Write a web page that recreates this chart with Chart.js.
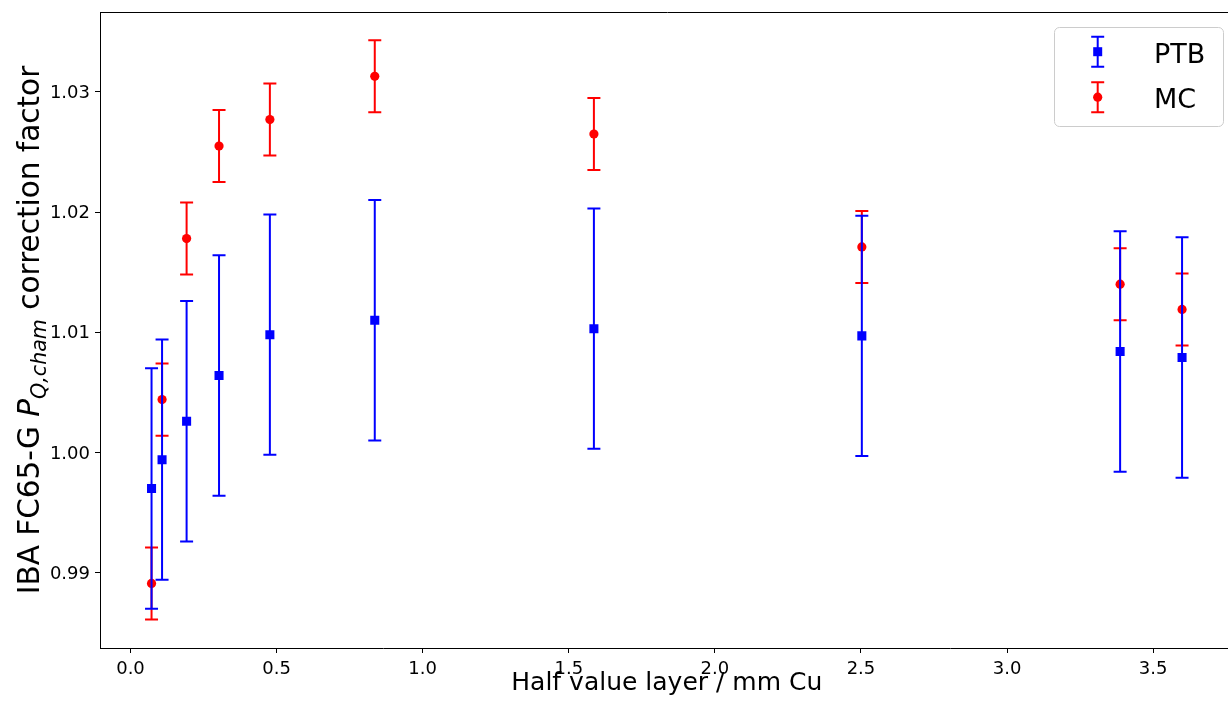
<!DOCTYPE html>
<html>
<head>
<meta charset="utf-8">
<script src="https://cdn.jsdelivr.net/npm/chart.js@4.4.0/dist/chart.umd.min.js"></script>
<style>
  html, body { margin: 0; padding: 0; background: #fff; overflow: hidden; }
  #wrap { width: 1240px; height: 704px; }
</style>
</head>
<body>
<div id="wrap"><canvas id="chart" width="1240" height="704"></canvas></div>
<script>
// half value layer (mm Cu)
const HVL = [0.072, 0.108, 0.192, 0.303, 0.477, 0.836, 1.586, 2.503, 3.387, 3.599];
// PTB measurement
const PTB = [0.9970, 0.9994, 1.0026, 1.0064, 1.0098, 1.0110, 1.0103, 1.0097, 1.0084, 1.0079];
const PTB_ERR = [0.010, 0.010, 0.010, 0.010, 0.010, 0.010, 0.010, 0.010, 0.010, 0.010];
// Monte Carlo
const MC = [0.9891, 1.0044, 1.0178, 1.0255, 1.0277, 1.0313, 1.0265, 1.0171, 1.0140, 1.0119];
const MC_ERR = [0.003, 0.003, 0.003, 0.003, 0.003, 0.003, 0.003, 0.003, 0.003, 0.003];

const X_TICKS = [0.0, 0.5, 1.0, 1.5, 2.0, 2.5, 3.0, 3.5];
const Y_TICKS = [0.99, 1.00, 1.01, 1.02, 1.03];

const FONT = '"DejaVu Sans", sans-serif';

const noPad = s => { s.paddingTop = 0; s.paddingBottom = 0; s.paddingLeft = 0; s.paddingRight = 0; };

const extras = {
  id: 'extras',
  beforeDatasetDraw(chart, args) {
    const ds = chart.data.datasets[args.index];
    const xs = chart.scales.x, ys = chart.scales.y;
    const ctx = chart.ctx;
    ctx.save();
    ctx.strokeStyle = ds.backgroundColor;
    ctx.lineWidth = 2;
    ds.data.forEach((p, i) => {
      const x = xs.getPixelForValue(p.x);
      const y1 = ys.getPixelForValue(p.y - ds.err[i]);
      const y2 = ys.getPixelForValue(p.y + ds.err[i]);
      ctx.beginPath();
      ctx.moveTo(x, y1); ctx.lineTo(x, y2);
      ctx.moveTo(x - 6.5, y1); ctx.lineTo(x + 6.5, y1);
      ctx.moveTo(x - 6.5, y2); ctx.lineTo(x + 6.5, y2);
      ctx.stroke();
    });
    ctx.restore();
  },
  afterDraw(chart) {
    const ctx = chart.ctx;
    const a = chart.chartArea;
    ctx.save();

    // top and right spines
    ctx.strokeStyle = '#000';
    ctx.lineWidth = 1;
    ctx.beginPath();
    ctx.moveTo(Math.round(a.left) + 0.5, Math.round(a.top) + 0.5);
    ctx.lineTo(Math.round(a.right) + 0.5, Math.round(a.top) + 0.5);
    ctx.lineTo(Math.round(a.right) + 0.5, Math.round(a.bottom) + 0.5);
    ctx.stroke();

    // x title
    ctx.fillStyle = '#000';
    ctx.font = '25px ' + FONT;
    ctx.textAlign = 'center';
    ctx.textBaseline = 'alphabetic';
    ctx.fillText('Half value layer / mm Cu', (a.left + a.right) / 2, 690);

    // y title with mathtext-like subscript
    const parts = [
      { t: 'IBA FC65-G ', f: '29.5px ' + FONT, dy: 0 },
      { t: 'P', f: 'italic 29.5px ' + FONT, dy: 0 },
      { t: 'Q,cham', f: 'italic 20.6px ' + FONT, dy: 7 },
      { t: ' correction factor', f: '29.5px ' + FONT, dy: 0 }
    ];
    let total = 0;
    parts.forEach(p => { ctx.font = p.f; p.w = ctx.measureText(p.t).width; total += p.w; });
    ctx.translate(39, (a.top + a.bottom) / 2);
    ctx.rotate(-Math.PI / 2);
    ctx.textAlign = 'left';
    let cx = -total / 2;
    parts.forEach(p => { ctx.font = p.f; ctx.fillText(p.t, cx, p.dy); cx += p.w; });
    ctx.setTransform(1, 0, 0, 1, 0, 0);

    // legend
    const lx = 1054.5, ly = 27.5, lw = 169, lh = 99, r = 5;
    ctx.beginPath();
    ctx.moveTo(lx + r, ly);
    ctx.arcTo(lx + lw, ly, lx + lw, ly + lh, r);
    ctx.arcTo(lx + lw, ly + lh, lx, ly + lh, r);
    ctx.arcTo(lx, ly + lh, lx, ly, r);
    ctx.arcTo(lx, ly, lx + lw, ly, r);
    ctx.closePath();
    ctx.fillStyle = 'rgba(255,255,255,0.8)';
    ctx.fill();
    ctx.strokeStyle = '#cccccc';
    ctx.lineWidth = 1;
    ctx.stroke();

    const entries = [
      { label: 'PTB', color: '#0000ff', shape: 'rect', cy: 51.7 },
      { label: 'MC', color: '#ff0000', shape: 'circle', cy: 97.2 }
    ];
    entries.forEach(e => {
      const ex = 1097.7;
      ctx.strokeStyle = e.color;
      ctx.fillStyle = e.color;
      ctx.lineWidth = 2;
      ctx.beginPath();
      ctx.moveTo(ex, e.cy - 15); ctx.lineTo(ex, e.cy + 15);
      ctx.moveTo(ex - 6.5, e.cy - 15); ctx.lineTo(ex + 6.5, e.cy - 15);
      ctx.moveTo(ex - 6.5, e.cy + 15); ctx.lineTo(ex + 6.5, e.cy + 15);
      ctx.stroke();
      ctx.beginPath();
      if (e.shape === 'rect') ctx.rect(ex - 4.5, e.cy - 4.5, 9, 9);
      else ctx.arc(ex, e.cy, 4.6, 0, Math.PI * 2);
      ctx.fill();
      ctx.fillStyle = '#000';
      ctx.font = '27px ' + FONT;
      ctx.textAlign = 'left';
      ctx.textBaseline = 'alphabetic';
      ctx.fillText(e.label, 1154, e.cy + 11);
    });

    ctx.restore();
  }
};

new Chart(document.getElementById('chart'), {
  type: 'scatter',
  data: {
    datasets: [
      {
        label: 'PTB',
        data: HVL.map((x, i) => ({ x: x, y: PTB[i] })),
        err: PTB_ERR,
        backgroundColor: '#0000ff',
        borderColor: '#0000ff',
        pointStyle: 'rect',
        pointRadius: 6.4,
        pointBorderWidth: 0
      },
      {
        label: 'MC',
        data: HVL.map((x, i) => ({ x: x, y: MC[i] })),
        err: MC_ERR,
        backgroundColor: '#ff0000',
        borderColor: '#ff0000',
        pointStyle: 'circle',
        pointRadius: 4.6,
        pointBorderWidth: 0
      }
    ]
  },
  options: {
    responsive: false,
    animation: false,
    events: [],
    layout: { padding: { top: 12, right: 2, left: 0, bottom: 0 } },
    plugins: { legend: { display: false }, tooltip: { enabled: false } },
    scales: {
      x: {
        type: 'linear',
        min: -0.1044,
        max: 3.7754,
        afterBuildTicks: s => { s.ticks = X_TICKS.map(v => ({ value: v })); },
        afterFit: s => { s.height = 56; noPad(s); },
        ticks: {
          color: '#000',
          padding: 6,
          maxRotation: 0,
          font: { family: FONT, size: 18 },
          callback: v => Number(v).toFixed(1)
        },
        grid: { drawOnChartArea: false, drawTicks: true, tickLength: 5, tickColor: '#000', tickWidth: 1 },
        border: { display: true, color: '#000', width: 1 }
      },
      y: {
        type: 'linear',
        min: 0.98373,
        max: 1.03665,
        afterBuildTicks: s => { s.ticks = Y_TICKS.map(v => ({ value: v })); },
        afterFit: s => { s.width = 100; noPad(s); },
        ticks: {
          color: '#000',
          padding: 5,
          labelOffset: 1.5,
          font: { family: FONT, size: 18 },
          callback: v => Number(v).toFixed(2)
        },
        grid: { drawOnChartArea: false, drawTicks: true, tickLength: 5, tickColor: '#000', tickWidth: 1 },
        border: { display: true, color: '#000', width: 1 }
      }
    }
  },
  plugins: [extras]
});
</script>
</body>
</html>
